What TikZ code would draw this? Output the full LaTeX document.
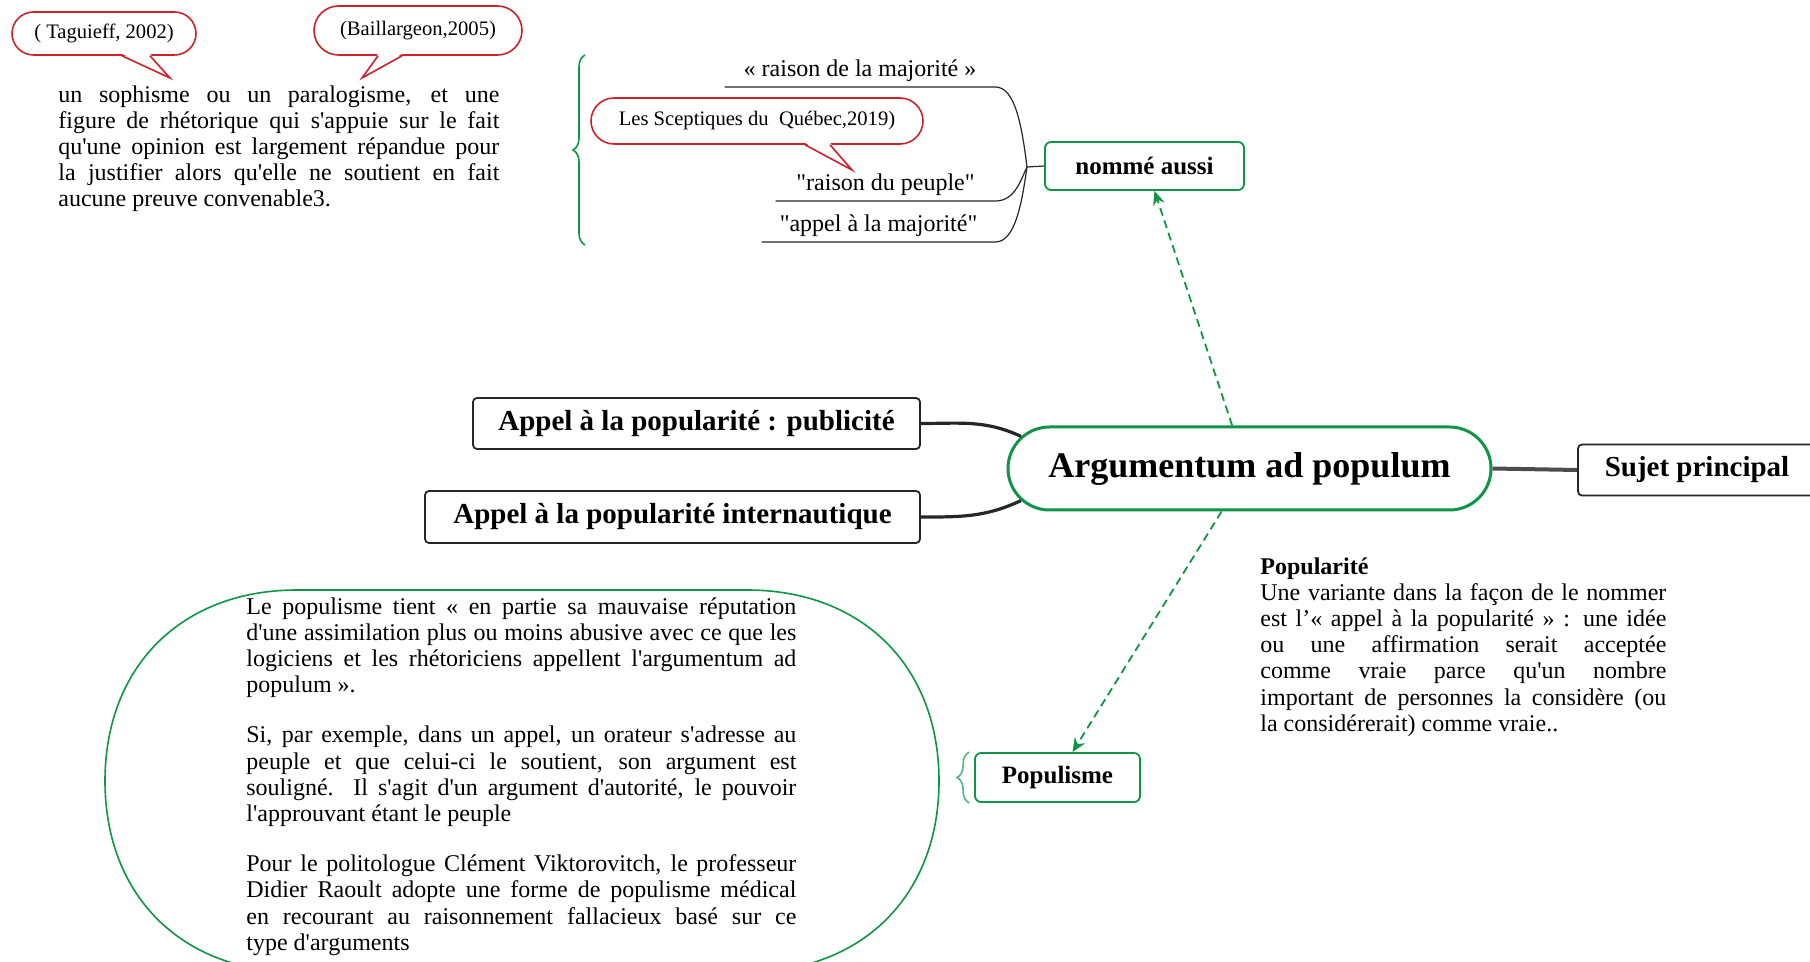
\documentclass[tikz,border=0pt]{standalone}
\usepackage{fontspec}
\setmainfont{Liberation Serif}[Ligatures=TeXOff]
\usepackage{xcolor}
\usetikzlibrary{shapes.misc,decorations.pathreplacing,arrows.meta}

\definecolor{mapgreen}{RGB}{14,150,70}
\definecolor{citered}{RGB}{205,35,40}

\tikzset{
  mainidea/.style={rounded rectangle, draw=mapgreen, line width=1.5pt, fill=white, inner sep=0pt,
    minimum width=241.5pt, minimum height=41.5pt, font=\bfseries\fontsize{18}{20}\selectfont},
  topicbox/.style={draw=black!85, line width=0.9pt, rounded corners=2pt, fill=white, inner sep=0pt,
    minimum height=25.5pt, font=\bfseries\fontsize{14.5}{16}\selectfont},
  greenbox/.style={draw=mapgreen, line width=0.9pt, rounded corners=3pt, fill=white, inner sep=0pt,
    minimum height=24pt, font=\bfseries\fontsize{12.5}{14}\selectfont},
  citebubble/.style={rounded rectangle, draw=citered, line width=0.8pt, fill=white, inner sep=0pt,
    font=\fontsize{10.3}{12}\selectfont},
  citetail/.style={draw=citered, line width=0.8pt},
  altname/.style={inner sep=0pt, text depth=5pt, font=\fontsize{12}{14}\selectfont},
  bodytext/.style={inner sep=0pt, align=justify, font=\fontsize{12}{13.1}\selectfont},
  branch/.style={draw=black!85, line width=0.6pt},
  thickbranch/.style={draw=black!85, line width=1.6pt},
  linkarrow/.style={draw=mapgreen, line width=0.9pt, dash pattern=on 4pt off 2.5pt,
    -{Stealth[length=7pt,width=6pt]}},
  bracegreen/.style={draw=mapgreen, line width=0.8pt, decorate, decoration={brace, amplitude=6pt}},
  bubbleline/.style={draw=mapgreen, line width=0.8pt},
}

\begin{document}
\begin{tikzpicture}[x=0.5pt, y=-0.5pt]
  \useasboundingbox (0,0) rectangle (1810,962);
  \clip (0,0) rectangle (1810,962);

  % centre de la carte
  \node[mainidea] (central) at (1249.5,468.5) {Argumentum ad populum};
  \node[topicbox, minimum width=119pt] (sujet) at (1697,470) {Sujet principal};
  \node[topicbox, minimum width=223.5pt] (pub) at (696.5,423.5) {Appel à la popularité : publicité};
  \node[topicbox, minimum width=247.5pt, minimum height=26pt] (inet) at (672.5,517) {Appel à la popularité internautique};
  \node[greenbox, minimum width=99.5pt] (nomme) at (1144.5,166) {nommé aussi};
  \node[greenbox, minimum width=82.5pt, minimum height=24.5pt] (popu) at (1057.5,777.5) {Populisme};

  \draw[thickbranch, line width=2pt, draw=black!70] (central.east) -- (sujet.west);
  \draw[thickbranch] (pub.east) to[out=0, in=155] (central.172);
  \draw[thickbranch] (inet.east) to[out=0, in=205] (central.188);
  \draw[linkarrow] (central.112) -- ([xshift=5pt]nomme.south);
  \draw[linkarrow] (central.237) -- ([xshift=7.5pt]popu.north);

  % autres noms
  \coordinate (nmjoin) at (1027,167);
  \node[altname, minimum width=135pt, anchor=south] (rmaj) at (860,87) {«~raison de la majorité~»};
  \node[altname, minimum width=109.5pt, anchor=south] (rpeu) at (885.5,201) {"raison du peuple"};
  \node[altname, minimum width=116.5pt, anchor=south] (amaj) at (878.5,242) {"appel à la majorité"};
  \draw[branch] (rmaj.south west) -- (rmaj.south east) .. controls +(20,0) and +(-5,-40) .. (nmjoin);
  \draw[branch] (rpeu.south west) -- (rpeu.south east) .. controls +(20,0) and +(-6,12) .. (nmjoin);
  \draw[branch] (amaj.south west) -- (amaj.south east) .. controls +(20,0) and +(-5,35) .. (nmjoin);
  \draw[branch] (nmjoin) -- (nomme.west);
  \draw[bracegreen] (585,245) -- (585,55);

  % sources
  \node[citebubble, minimum width=92pt, minimum height=21.5pt] (tagu) at (104,33.5) {( Taguieff, 2002)};
  \coordinate (tagutip) at (170,78);
  \fill[white] ([xshift=9pt,yshift=1pt]tagu.south) -- (tagutip) -- ([xshift=23pt,yshift=1pt]tagu.south) -- cycle;
  \draw[citetail] ([xshift=9pt]tagu.south) -- (tagutip) -- ([xshift=23pt]tagu.south);

  \node[citebubble, minimum width=104pt, minimum height=24.5pt] (bail) at (418,30.5) {(Baillargeon,2005)};
  \coordinate (bailtip) at (362,78);
  \fill[white] ([xshift=-20pt,yshift=1pt]bail.south) -- (bailtip) -- ([xshift=-8pt,yshift=1pt]bail.south) -- cycle;
  \draw[citetail] ([xshift=-20pt]bail.south) -- (bailtip) -- ([xshift=-8pt]bail.south);

  \node[citebubble, minimum width=166pt, minimum height=23pt] (scep) at (757,121) {Les Sceptiques du~ Québec,2019)};
  \coordinate (sceptip) at (852,170);
  \fill[white] ([xshift=24pt,yshift=1pt]scep.south) -- (sceptip) -- ([xshift=36.5pt,yshift=1pt]scep.south) -- cycle;
  \draw[citetail] ([xshift=24pt]scep.south) -- (sceptip) -- ([xshift=36.5pt]scep.south);

  % textes
  \node[bodytext, text width=220.5pt, anchor=north west] (sophtxt) at (58,85) {un sophisme ou un paralogisme, et une\linebreak
    figure de rhétorique qui s'appuie sur le fait\linebreak
    qu'une opinion est largement répandue pour\linebreak
    la justifier alors qu'elle ne soutient en fait\linebreak
    aucune preuve convenable3.};

  \node[bodytext, text width=203pt, anchor=north west] (poptxt) at (1260,557) {\textbf{Popularité}\par
    Une variante dans la façon de le nommer\linebreak
    est l’«~appel à la popularité~» : une idée\linebreak
    ou une affirmation serait acceptée\linebreak
    comme vraie parce qu'un nombre\linebreak
    important de personnes la considère (ou\linebreak
    la considérerait) comme vraie..};

  % bulle du populisme
  \draw[bubbleline] (297,590) -- (747,590) .. controls (862,590) and (939,666) .. (939,781)
    .. controls (939,896) and (862,972) .. (747,972) -- (297,972)
    .. controls (182,972) and (105,896) .. (105,781) .. controls (105,666) and (182,590) .. cycle;
  \draw[bracegreen, draw=mapgreen!70] ([xshift=-2.5pt]popu.south west) -- ([xshift=-2.5pt]popu.north west);
  \node[bodytext, text width=275pt, anchor=north west] (popitxt) at (246,597) {Le populisme tient «~en partie sa mauvaise réputation\linebreak
    d'une assimilation plus ou moins abusive avec ce que les\linebreak
    logiciens et les rhétoriciens appellent l'argumentum ad\linebreak
    populum~».\par\vspace{12pt}
    Si, par exemple, dans un appel, un orateur s'adresse au\linebreak
    peuple et que celui-ci le soutient, son argument est\linebreak
    souligné. Il s'agit d'un argument d'autorité, le pouvoir\linebreak
    l'approuvant étant le peuple\par\vspace{12pt}
    Pour le politologue Clément Viktorovitch, le professeur\linebreak
    Didier Raoult adopte une forme de populisme médical\linebreak
    en recourant au raisonnement fallacieux basé sur ce\linebreak
    type d'arguments};
\end{tikzpicture}
\end{document}
